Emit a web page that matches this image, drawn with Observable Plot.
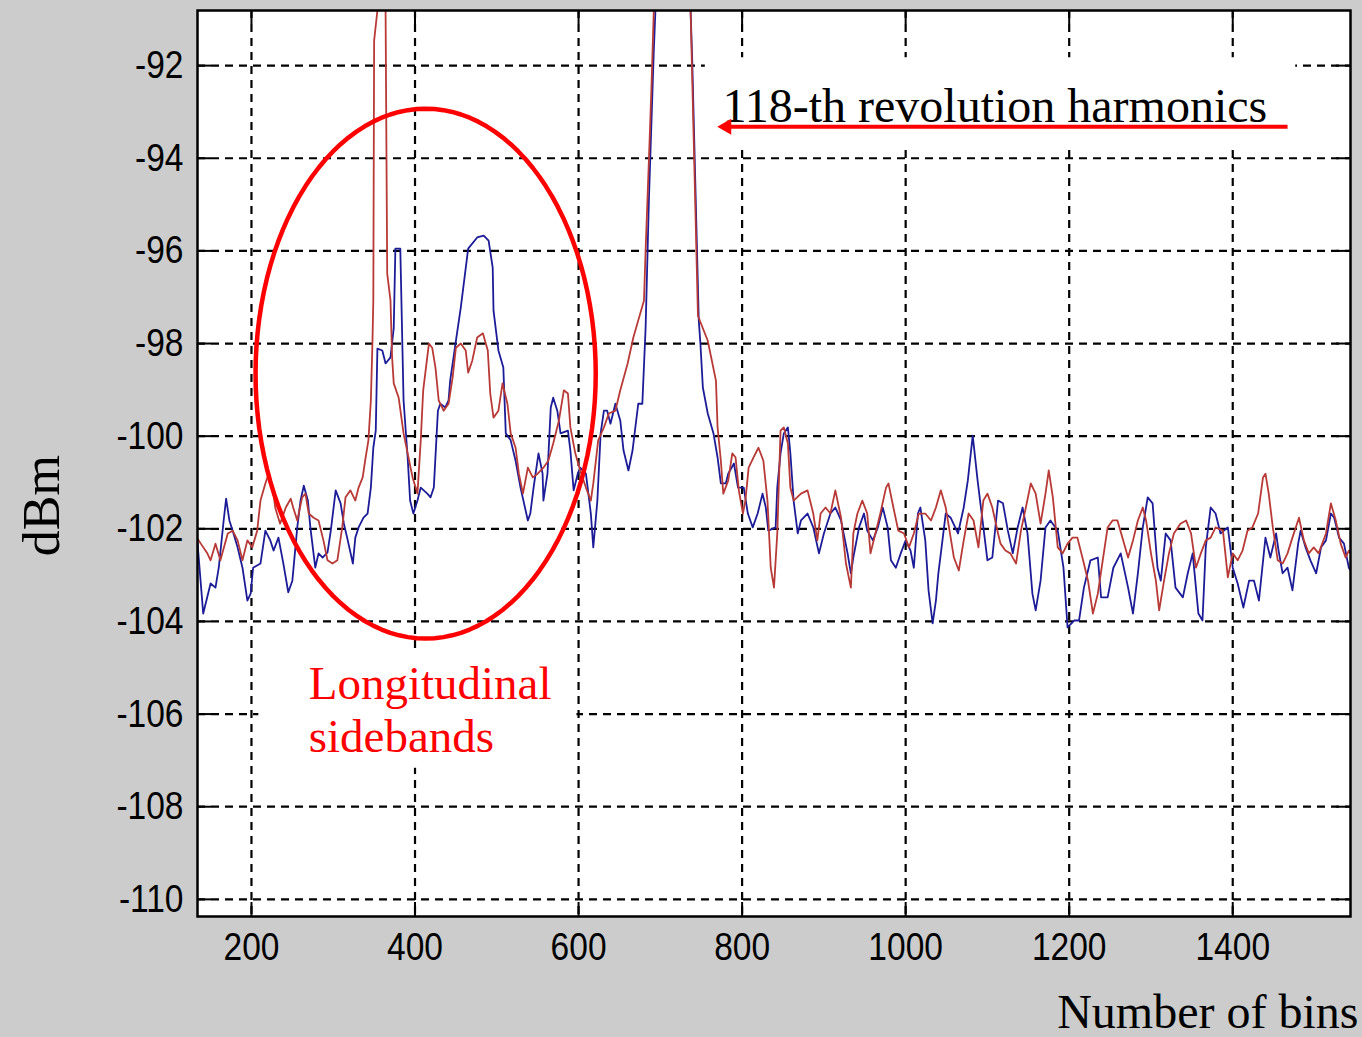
<!DOCTYPE html>
<html><head><meta charset="utf-8">
<script src="https://cdn.jsdelivr.net/npm/d3@7"></script>
<script src="https://cdn.jsdelivr.net/npm/@observablehq/plot@0.6"></script>
<style>html,body{margin:0;padding:0;background:#cccccc;}</style>
</head><body><div id="chart"></div>
<script>
const xTicks = [200, 400, 600, 800, 1000, 1200, 1400];
const yTicks = [-92, -94, -96, -98, -100, -102, -104, -106, -108, -110];
const xDomain = [134, 1544];
const yDomain = [-110.37, -90.81];

const blueSeries = [
[134,-102.3],[141,-103.83],[150,-103.18],[156,-103.27],[160,-102.84],[166,-101.82],[169,-101.35],[173,-101.82],[177,-102.04],[183,-102.40],
[189,-102.84],[195,-103.55],[199,-103.40],[202,-102.84],[211,-102.75],[217,-102.04],[223,-102.25],[227,-102.47],[233,-102.19],[239,-102.75],
[245,-103.37],[250,-103.12],[256,-101.97],[260,-101.39],[264,-101.07],[269,-101.39],[272,-101.97],[278,-102.84],[282,-102.53],[287,-102.62],
[293,-102.51],[297,-102.04],[303,-101.17],[309,-101.45],[313,-101.89],[317,-102.19],[324,-102.75],[327,-102.19],[331,-101.97],[337,-101.76],
[342,-101.67],[346,-101.11],[349,-100.25],[352,-99.88],[354,-98.11],[360,-98.15],[364,-98.43],[370,-98.30],[374,-97.66],[376,-95.95],
[382,-95.95],[386,-99.23],[391,-100.46],[394,-101.39],[398,-101.67],[403,-101.39],[407,-101.11],[415,-101.24],[419,-101.32],[423,-101.11],
[428,-99.45],[431,-99.30],[437,-99.38],[441,-99.23],[443,-98.80],[450,-97.94],[456,-97.22],[465,-95.95],[476,-95.71],[484,-95.67],
[490,-95.78],[495,-96.36],[496,-97.29],[502,-98.15],[508,-98.52],[511,-99.94],[517,-100.09],[523,-100.53],[529,-101.11],[538,-101.82],
[541,-101.67],[545,-101.11],[551,-100.37],[556,-100.81],[557,-101.39],[562,-100.81],[566,-99.38],[569,-99.17],[574,-99.45],[578,-99.94],
[587,-99.88],[590,-100.31],[594,-101.17],[599,-100.81],[602,-100.68],[609,-100.81],[615,-101.67],[618,-102.40],[623,-101.39],[627,-99.94],
[631,-99.45],[635,-99.45],[639,-99.73],[645,-99.30],[651,-99.66],[655,-100.31],[661,-100.74],[666,-100.31],[670,-99.73],[673,-99.30],
[678,-99.30],[682,-97.66],[686,-94.91],[692,-91.68],[694,-90.81],[706,-86.28],[725,-86.28],[737,-90.81],[739,-91.89],[747,-97.50],
[749,-98.00],[752,-98.95],[758,-99.51],[765,-99.94],[770,-100.46],[774,-101.02],[780,-101.02],[783,-100.81],[790,-100.59],[795,-101.11],
[802,-101.11],[807,-101.67],[813,-101.97],[819,-101.67],[825,-101.24],[829,-101.54],[832,-102.04],[841,-101.97],[843,-101.11],[847,-100.37],
[851,-99.94],[856,-99.81],[859,-100.37],[863,-101.39],[868,-102.10],[872,-101.82],[880,-101.67],[887,-101.97],[894,-102.53],[900,-102.10],
[908,-101.67],[914,-101.54],[921,-101.82],[929,-102.53],[933,-102.96],[936,-102.62],[943,-101.97],[949,-101.67],[953,-102.04],[960,-102.25],
[966,-101.97],[972,-101.54],[978,-101.97],[982,-102.68],[988,-102.84],[994,-102.53],[1000,-102.25],[1006,-102.47],[1010,-102.84],[1015,-101.67],
[1018,-101.54],[1024,-102.25],[1028,-103.33],[1033,-104.04],[1037,-103.55],[1040,-102.96],[1045,-102.25],[1049,-101.67],[1055,-101.76],[1064,-102.10],
[1071,-101.54],[1076,-100.96],[1082,-99.99],[1088,-100.96],[1094,-101.82],[1100,-102.68],[1106,-102.62],[1113,-101.39],[1119,-101.45],[1125,-102.04],
[1131,-102.53],[1137,-101.97],[1143,-101.54],[1149,-102.10],[1155,-103.40],[1159,-103.76],[1165,-103.12],[1171,-101.97],[1177,-101.82],[1186,-102.04],
[1193,-102.84],[1198,-104.13],[1206,-103.98],[1212,-103.98],[1218,-103.27],[1226,-102.68],[1235,-102.62],[1239,-103.48],[1247,-103.48],[1254,-102.84],
[1263,-102.53],[1272,-103.27],[1278,-103.83],[1284,-102.96],[1290,-101.97],[1296,-101.32],[1302,-101.45],[1308,-102.84],[1312,-103.12],[1318,-102.10],
[1324,-102.25],[1330,-103.27],[1339,-103.48],[1345,-102.96],[1351,-102.53],[1358,-103.83],[1363,-103.98],[1367,-102.40],[1373,-101.54],[1379,-101.67],
[1385,-102.10],[1394,-101.97],[1400,-102.84],[1406,-103.18],[1413,-103.70],[1420,-103.12],[1426,-103.12],[1432,-103.55],[1440,-102.19],[1446,-102.62],
[1453,-102.10],[1456,-102.47],[1461,-102.96],[1467,-102.84],[1473,-103.33],[1480,-102.32],[1483,-102.04],[1489,-102.40],[1495,-102.68],[1502,-102.96],
[1508,-102.40],[1514,-102.25],[1520,-101.67],[1524,-101.76],[1530,-102.19],[1536,-102.32],[1542,-102.84],[1544,-102.90]
];

const redSeries = [
[134,-102.21],[138,-102.32],[146,-102.53],[150,-102.68],[156,-102.32],[162,-102.68],[171,-102.10],[177,-102.04],[183,-102.25],[189,-102.68],
[195,-102.25],[201,-102.40],[207,-102.04],[211,-101.39],[217,-101.02],[221,-100.81],[226,-101.11],[229,-101.54],[235,-101.89],[242,-101.54],
[248,-101.35],[251,-101.54],[256,-101.82],[262,-101.32],[266,-101.24],[270,-101.67],[276,-101.76],[282,-101.82],[288,-102.25],[293,-102.68],
[299,-102.75],[305,-102.68],[311,-101.97],[315,-101.32],[321,-101.17],[327,-101.39],[331,-101.11],[336,-100.89],[339,-100.53],[343,-100.09],
[346,-99.23],[348,-97.94],[349,-97.07],[350,-91.46],[354,-90.81],[358,-86.28],[361,-86.28],[364,-90.81],[366,-96.49],[370,-97.07],
[372,-98.30],[374,-98.86],[380,-99.17],[386,-99.94],[391,-100.37],[397,-100.89],[403,-101.24],[407,-100.09],[410,-99.01],[417,-98.00],
[421,-98.09],[425,-98.52],[429,-99.23],[435,-99.45],[441,-99.30],[446,-98.73],[450,-98.09],[456,-98.00],[462,-98.15],[465,-98.63],
[470,-98.37],[476,-97.87],[483,-97.78],[489,-98.15],[492,-99.08],[496,-99.60],[502,-99.45],[507,-98.86],[513,-99.30],[517,-99.94],
[523,-100.25],[527,-100.81],[532,-101.24],[538,-100.68],[544,-100.89],[550,-100.81],[557,-100.68],[563,-100.53],[569,-100.16],[576,-99.66],
[582,-99.01],[587,-99.08],[590,-99.81],[596,-100.37],[602,-100.74],[609,-101.11],[615,-101.39],[618,-101.02],[624,-100.09],[631,-99.81],
[637,-99.51],[645,-99.45],[651,-99.01],[660,-98.43],[667,-97.87],[673,-97.50],[680,-97.07],[682,-95.99],[686,-94.05],[689,-92.54],
[692,-90.81],[706,-86.28],[725,-86.28],[737,-90.81],[746,-97.40],[758,-97.94],[768,-98.80],[770,-99.81],[774,-100.53],[777,-101.24],
[783,-100.96],[788,-100.37],[792,-100.46],[796,-101.17],[801,-101.67],[804,-101.39],[808,-100.68],[814,-100.46],[820,-100.25],[826,-100.53],
[831,-101.39],[835,-102.84],[839,-103.27],[843,-102.10],[847,-99.88],[851,-99.81],[856,-100.16],[859,-101.11],[863,-101.39],[872,-101.24],
[880,-101.17],[887,-101.67],[892,-102.25],[896,-101.67],[902,-101.54],[908,-101.67],[914,-101.17],[921,-101.76],[927,-102.75],[933,-103.27],
[936,-102.10],[941,-101.67],[947,-101.39],[953,-101.67],[957,-102.53],[963,-102.10],[969,-101.67],[976,-101.11],[979,-101.02],[985,-101.54],
[991,-102.04],[998,-102.10],[1004,-102.40],[1010,-102.10],[1016,-101.67],[1024,-101.67],[1031,-101.82],[1037,-101.54],[1043,-101.17],[1049,-101.54],
[1053,-101.97],[1059,-102.62],[1065,-102.90],[1071,-102.25],[1077,-101.67],[1083,-101.82],[1089,-102.40],[1095,-101.39],[1100,-101.24],[1106,-101.54],
[1113,-102.10],[1116,-102.32],[1122,-102.47],[1128,-102.53],[1135,-102.75],[1141,-102.04],[1147,-101.54],[1153,-101.02],[1159,-101.24],[1165,-101.89],
[1171,-101.24],[1175,-100.74],[1180,-101.32],[1186,-102.40],[1192,-102.53],[1198,-102.32],[1204,-102.19],[1210,-102.19],[1217,-102.68],[1223,-103.12],
[1229,-103.83],[1235,-103.40],[1241,-102.68],[1247,-101.97],[1253,-101.82],[1259,-101.82],[1265,-102.19],[1272,-102.62],[1278,-102.25],[1284,-101.82],
[1290,-101.54],[1294,-101.82],[1300,-102.53],[1306,-103.12],[1310,-103.76],[1316,-103.12],[1322,-102.53],[1328,-102.10],[1336,-101.89],[1343,-101.82],
[1349,-102.10],[1355,-102.84],[1361,-102.53],[1367,-102.25],[1373,-102.19],[1379,-101.97],[1388,-102.04],[1394,-103.05],[1400,-102.53],[1406,-102.68],
[1412,-102.47],[1418,-102.04],[1424,-101.97],[1431,-101.67],[1437,-100.89],[1440,-100.81],[1444,-101.24],[1449,-101.97],[1455,-102.68],[1461,-102.75],
[1467,-102.53],[1473,-102.19],[1481,-101.76],[1487,-102.25],[1493,-102.53],[1499,-102.40],[1505,-102.53],[1514,-102.10],[1520,-101.45],[1526,-101.82],
[1532,-102.32],[1538,-102.62],[1542,-102.47],[1544,-102.53]
];

const harmonicLabel = "118-th revolution harmonics";
const sidebandLabels = ["Longitudinal", "sidebands"];
const xLabel = "Number of bins";
const yLabel = "dBm";

const rows = s => s.map(([bin, dbm]) => ({bin, dbm}));
const blue = rows(blueSeries);
const red = rows(redSeries);

// annotation geometry (data units)
const ell = {cx: 413, cy: -98.65, rx: 208, ry: 5.72};
const ellipse = d3.range(0, 361, 3).map(a => ({
  bin: ell.cx + ell.rx * Math.cos(a * Math.PI / 180),
  dbm: ell.cy + ell.ry * Math.sin(a * Math.PI / 180)
}));

const serif = "'Liberation Serif', 'Times New Roman', serif";
const tickFont = "'Liberation Sans', Arial, sans-serif";
const RED = "#ff0000";
const BLUE = "#1c1c98";
const DRED = "#b83a36";
const dash = "8,6";

const plot = Plot.plot({
  width: 1362,
  height: 1037,
  marginLeft: 197,
  marginRight: 12,
  marginTop: 10,
  marginBottom: 121,
  style: {background: "#cccccc", color: "black", overflow: "visible"},
  x: {domain: xDomain},
  y: {domain: yDomain},
  marks: [
    Plot.frame({fill: "white"}),
    Plot.ruleX(xTicks, {stroke: "black", strokeWidth: 2.2, strokeDasharray: dash}),
    Plot.ruleY(yTicks, {stroke: "black", strokeWidth: 2.2, strokeDasharray: dash}),
    // white boxes behind annotations
    Plot.rect([0], {x1: 755, x2: 1477, y1: -91.83, y2: -93.77, fill: "white"}),
    Plot.rect([0], {x1: 209, x2: 598, y1: -104.63, y2: -107.17, fill: "white"}),
    // inner ticks
    Plot.ruleX(xTicks, {insetTop: 892, stroke: "black", strokeWidth: 2}),
    Plot.ruleX(xTicks, {insetBottom: 892, stroke: "black", strokeWidth: 2}),
    Plot.ruleY(yTicks, {insetRight: 1139, stroke: "black", strokeWidth: 2}),
    Plot.ruleY(yTicks, {insetLeft: 1139, stroke: "black", strokeWidth: 2}),
    // data
    Plot.line(blue, {x: "bin", y: "dbm", stroke: BLUE, strokeWidth: 1.8, clip: "frame"}),
    Plot.line(red, {x: "bin", y: "dbm", stroke: DRED, strokeWidth: 1.8, clip: "frame"}),
    // annotations
    Plot.line(ellipse, {x: "bin", y: "dbm", stroke: RED, strokeWidth: 4.5}),
    Plot.text([harmonicLabel], {x: 776, y: -92.88, textAnchor: "start", fontSize: 48, fontFamily: serif, fill: "black"}),
    Plot.link([0], {x1: 1467, x2: 782, y1: -93.32, y2: -93.32, stroke: RED, strokeWidth: 4}),
    Plot.dot([0], {x: 781, y: -93.32, symbol: "triangle", r: 6, fill: RED, stroke: null, rotate: -90}),
    Plot.text([sidebandLabels[0]], {x: 270, y: -105.34, textAnchor: "start", fontSize: 47, fontFamily: serif, fill: RED}),
    Plot.text([sidebandLabels[1]], {x: 270, y: -106.50, textAnchor: "start", fontSize: 47, fontFamily: serif, fill: RED}),
    // frame
    Plot.frame({stroke: "black", strokeWidth: 2.5}),
    // axes
    Plot.axisX({ticks: xTicks, tickSize: 0, tickPadding: 16, fontSize: 39, fontFamily: tickFont, tickFormat: d => String(d), label: null}),
    Plot.axisY({ticks: yTicks, tickSize: 0, tickPadding: 14, fontSize: 39, fontFamily: tickFont, tickFormat: d => String(d), label: null}),
    Plot.text([yLabel], {frameAnchor: "left", y: -101.5, dx: -155, rotate: -90, textAnchor: "middle", fontSize: 52, fontFamily: serif, fill: "black"}),
    Plot.text([xLabel], {frameAnchor: "bottom-right", dx: 8, dy: 111, textAnchor: "end", fontSize: 48, fontFamily: serif, fill: "black"})
  ]
});
// condense tick labels horizontally (narrow MATLAB-style digits)
plot.querySelectorAll('[aria-label="x-axis tick label"] text, [aria-label="y-axis tick label"] text').forEach(t => {
  const tr = t.getAttribute("transform");
  if (tr) t.setAttribute("transform", tr + " scale(0.86,1)");
});
document.getElementById("chart").append(plot);
</script>
</body></html>
